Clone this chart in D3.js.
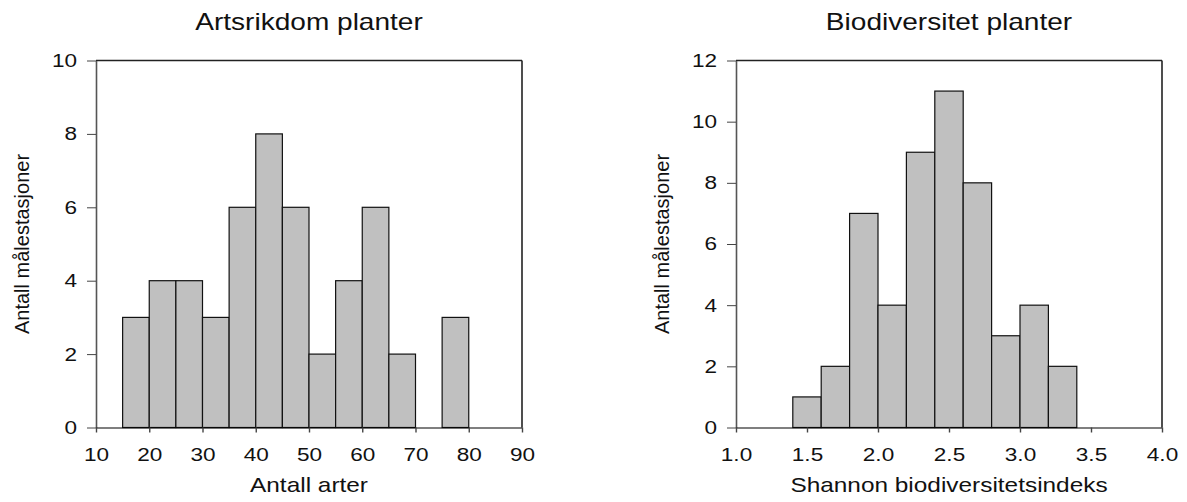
<!DOCTYPE html>
<html>
<head>
<meta charset="utf-8">
<script src="https://cdn.jsdelivr.net/npm/d3@7"></script>
<style>
  html, body { margin: 0; padding: 0; background: #fff; }
  svg { display: block; font-family: "Liberation Sans", Arial, sans-serif; }
</style>
</head>
<body>
<svg id="chart" width="1187" height="502"></svg>
<script>
// Species richness histogram: lower bin edges (width 5) and counts
const artsBinStarts = [15, 20, 25, 30, 35, 40, 45, 50, 55, 60, 65, 70, 75];
const artsCounts    = [3, 4, 4, 3, 6, 8, 6, 2, 4, 6, 2, 0, 3];
const artsBinWidth  = 5;
const artsXTicks    = [10, 20, 30, 40, 50, 60, 70, 80, 90];
const artsYTicks    = [0, 2, 4, 6, 8, 10];

// Shannon diversity histogram: lower bin edges (width 0.2) and counts
const shannonBinStarts = [1.4, 1.6, 1.8, 2.0, 2.2, 2.4, 2.6, 2.8, 3.0, 3.2];
const shannonCounts    = [1, 2, 7, 4, 9, 11, 8, 3, 4, 2];
const shannonBinWidth  = 0.2;
const shannonXTicks    = [1.0, 1.5, 2.0, 2.5, 3.0, 3.5, 4.0];
const shannonYTicks    = [0, 2, 4, 6, 8, 10, 12];

const titles  = ["Artsrikdom planter", "Biodiversitet planter"];
const xLabels = ["Antall arter", "Shannon biodiversitetsindeks"];
const yLabel  = "Antall målestasjoner";

// Horizontal text is drawn slightly widened
const STRETCH = 1.22;

const svg = d3.select("#chart");

function histogram(opts) {
  const { left, right, top, bottom, xDomain, yDomain, xTicks, yTicks,
          xFormat, starts, counts, width, title, xLabel } = opts;

  const x = d3.scaleLinear().domain(xDomain).range([left, right]);
  const y = d3.scaleLinear().domain(yDomain).range([bottom, top]);
  const g = svg.append("g");

  // Bars
  const bins = starts.map((s, i) => ({ x0: s, x1: s + width, n: counts[i] }))
                     .filter(d => d.n > 0);
  g.append("g").selectAll("rect")
    .data(bins)
    .join("rect")
      .attr("x", d => x(d.x0))
      .attr("y", d => y(d.n))
      .attr("width", d => x(d.x1) - x(d.x0))
      .attr("height", d => y(0) - y(d.n))
      .attr("fill", "#c0c0c0")
      .attr("stroke", "#111")
      .attr("stroke-width", 1.2);

  // Frame: top and right
  g.append("line").attr("x1", left).attr("x2", right).attr("y1", top).attr("y2", top)
    .attr("stroke", "#222").attr("stroke-width", 1.3);
  g.append("line").attr("x1", right).attr("x2", right).attr("y1", top).attr("y2", bottom)
    .attr("stroke", "#222").attr("stroke-width", 1.6);

  // Y axis
  const yAxis = g.append("g")
    .attr("transform", `translate(${left},0)`)
    .call(d3.axisLeft(y).tickValues(yTicks).tickSize(9).tickSizeOuter(0).tickPadding(10));
  yAxis.select(".domain").attr("stroke", "#555").attr("stroke-width", 1.6);
  yAxis.selectAll(".tick line").attr("stroke", "#444").attr("stroke-width", 1);
  yAxis.selectAll(".tick text")
    .attr("fill", "#111")
    .style("font-size", "18.5px")
    .attr("transform", function () {
      const tx = +this.getAttribute("x");
      return `translate(${tx},0) scale(${STRETCH},1)`;
    })
    .attr("x", 0);

  // X axis
  const xAxis = g.append("g")
    .attr("transform", `translate(0,${bottom})`)
    .call(d3.axisBottom(x).tickValues(xTicks).tickFormat(xFormat)
      .tickSize(5).tickSizeOuter(0).tickPadding(15));
  xAxis.select(".domain").attr("stroke", "#000").attr("stroke-width", 1.2);
  xAxis.selectAll(".tick line").attr("stroke", "#444").attr("stroke-width", 1.4);
  xAxis.selectAll(".tick text")
    .attr("fill", "#111")
    .style("font-size", "18.5px")
    .attr("x", 0)
    .attr("transform", `scale(${STRETCH},1)`);

  const cx = (left + right) / 2;
  const cy = (top + bottom) / 2;

  // Title
  g.append("text")
    .attr("transform", `translate(${cx},30) scale(${STRETCH},1)`)
    .attr("text-anchor", "middle")
    .style("font-size", "23px")
    .attr("fill", "#111")
    .text(title);

  // X label
  g.append("text")
    .attr("transform", `translate(${cx},492) scale(${STRETCH},1)`)
    .attr("text-anchor", "middle")
    .style("font-size", "20px")
    .attr("fill", "#111")
    .text(xLabel);

  // Y label
  g.append("text")
    .attr("transform", `translate(${left - 67},${cy}) rotate(-90)`)
    .attr("text-anchor", "middle")
    .style("font-size", "20px")
    .attr("fill", "#111")
    .text(yLabel);
}

histogram({
  left: 96, right: 522, top: 60.5, bottom: 427.5,
  xDomain: [10, 90], yDomain: [0, 10],
  xTicks: artsXTicks, yTicks: artsYTicks, xFormat: d3.format("d"),
  starts: artsBinStarts, counts: artsCounts, width: artsBinWidth,
  title: titles[0], xLabel: xLabels[0]
});

histogram({
  left: 736, right: 1162, top: 60.5, bottom: 427.5,
  xDomain: [1.0, 4.0], yDomain: [0, 12],
  xTicks: shannonXTicks, yTicks: shannonYTicks, xFormat: d3.format(".1f"),
  starts: shannonBinStarts, counts: shannonCounts, width: shannonBinWidth,
  title: titles[1], xLabel: xLabels[1]
});
</script>
</body>
</html>
